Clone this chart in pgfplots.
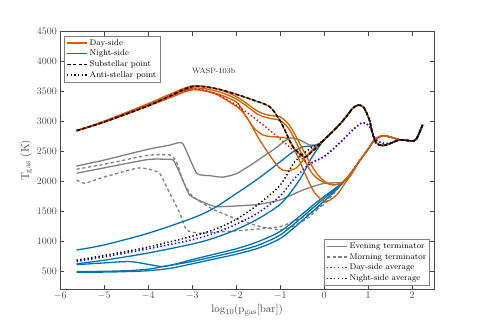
\documentclass[border=0pt]{standalone}
\usepackage{pgfplots}
\pgfplotsset{compat=1.18}
\definecolor{dayc}{RGB}{213,94,0}
\definecolor{nightc}{RGB}{0,114,178}
\definecolor{termc}{RGB}{128,128,128}
\definecolor{axc}{RGB}{70,70,70}
\tikzset{
  dayl/.style={draw=dayc, line width=1.3bp, solid},
  nightl/.style={draw=nightc, line width=1.3bp, solid},
  eveningl/.style={draw=termc, line width=1.3bp, solid},
  morningl/.style={draw=termc, line width=1.3bp, dash pattern=on 3.2bp off 2.6bp},
  subl/.style={draw=black, line width=1.6bp, dash pattern=on 3.6bp off 2.2bp},
  antil/.style={draw=black, line width=1.5bp, dash pattern=on 1.3bp off 2.4bp},
  davgl/.style={draw=red, line width=1.5bp, dash pattern=on 1.3bp off 2.4bp},
  navgl/.style={draw=blue, line width=1.5bp, dash pattern=on 1.3bp off 2.4bp},
}
\pgfplotsset{
  myaxis/.style={
    at={(0,0)}, anchor=south west, scale only axis,
    width=373.7bp, height=257.3bp,
    xmin=-6, xmax=2.5, ymin=210, ymax=4500,
  },
  mylegend/.style={
    legend style={draw=termc, fill=white,
      font=\fontsize{8.3bp}{9.5bp}\selectfont, inner sep=1.5bp, row sep=-0.6bp},
    legend cell align=left,
  },
}
\begin{document}
\begin{tikzpicture}
\path[use as bounding box] (-60.3bp,-33bp) rectangle (422.7bp,289bp);
\begin{axis}[myaxis, mylegend,
  xtick={-6,-5,...,2}, ytick={500,1000,...,4500},
  tick align=inside, major tick length=4bp,
  axis line style={axc, line width=0.7bp}, tick style={axc, line width=0.6bp},
  ticklabel style={font=\fontsize{9.8bp}{11bp}\selectfont, text=axc},
  yticklabel style={/pgf/number format/1000 sep={}},
  xlabel={$\mathrm{log_{10}(p_{gas}[bar])}$},
  ylabel={$\mathrm{T_{gas}}$ (K)},
  label style={font=\fontsize{11.4bp}{13bp}\selectfont, text=axc},
  xlabel style={yshift=2bp},
  ylabel style={yshift=-2bp},
  legend style={at={(0.011,0.984)}, anchor=north west},
]
\addlegendimage{legend image code/.code={\draw[dayc, line width=1.3bp] (0bp,0bp) -- (20bp,0bp);}}
\addlegendentry{Day-side}
\addlegendimage{legend image code/.code={\draw[nightc, line width=1.3bp] (0bp,0bp) -- (20bp,0bp);}}
\addlegendentry{Night-side}
\addlegendimage{legend image code/.code={\draw[black, line width=1.6bp, dash pattern=on 3.6bp off 2.2bp] (0bp,0bp) -- (20bp,0bp);}}
\addlegendentry{Substellar point}
\addlegendimage{legend image code/.code={\draw[black, line width=1.5bp, dash pattern=on 1.3bp off 2.4bp] (0bp,0bp) -- (20bp,0bp);}}
\addlegendentry{Anti-stellar point}

% Evening terminator
\addplot[eveningl, smooth, tension=0.3, forget plot] coordinates {(-5.63,2260)(-5,2360)(-4,2540)(-3.5,2610)(-3.22,2640)(-2.9,2140)(-2.6,2100)(-2.31,2075)(-2,2130)(-1.62,2300)(-1.16,2530)(-0.79,2725)(-0.55,2695)(-0.33,2610)(-0.1,2620)(0,2690)(0.3,2910)(0.5,3080)(0.65,3220)(0.77,3275)(0.9,3240)(1.03,3030)(1.1,2810)(1.18,2650)(1.3,2605)(1.41,2610)(1.55,2650)(1.71,2695)(1.85,2690)(2.0,2680)(2.1,2710)(2.24,2945)};
\addplot[eveningl, smooth, tension=0.3, forget plot] coordinates {(-5.63,2140)(-5,2230)(-4,2370)(-3.58,2373)(-3.43,2361)(-3.28,2140)(-3.06,1778)(-2.7,1640)(-2.45,1583)(-2,1594)(-1.5,1620)(-1,1694)(-0.48,1861)(0,1972)(0.42,1990)(0.6,2130)(0.8,2340)(1.0,2540)(1.15,2700)(1.33,2765)(1.5,2745)(1.71,2700)(1.85,2690)(2.0,2680)(2.1,2710)(2.24,2945)};
% Morning terminator
\addplot[morningl, smooth, tension=0.3, forget plot] coordinates {(-5.63,2207)(-5,2290)(-4,2440)(-3.51,2445)(-3.36,2333)(-3.2,2000)(-3.0,1760)(-2.53,1540)(-2,1380)(-1.5,1260)(-1.0,1195)(-0.71,1250)(-0.33,1417)(0,1650)(0.25,1850)(0.45,2000)(0.6,2130)(0.8,2340)(1.0,2540)(1.15,2700)(1.33,2765)(1.5,2745)(1.71,2700)(1.85,2690)(2.0,2680)(2.1,2710)(2.24,2945)};
\addplot[morningl, smooth, tension=0.3, forget plot] coordinates {(-5.63,2028)(-5.44,1973)(-5.1,2056)(-4.27,2223)(-4,2210)(-3.74,2139)(-3.51,1807)(-3.28,1472)(-3.13,1194)(-2.83,1139)(-2.45,1160)(-2,1180)(-1.5,1210)(-1,1250)(-0.5,1400)(0,1620)(0.25,1830)(0.45,2000)(0.6,2130)(0.8,2340)(1.0,2540)(1.15,2700)(1.33,2765)(1.5,2745)(1.71,2700)(1.85,2690)(2.0,2680)(2.1,2710)(2.24,2945)};

% Night-side
\addplot[nightl, smooth, forget plot] coordinates {(-5.63,860)(-5,945)(-4,1140)(-3,1390)(-2.5,1560)(-2,1800)(-1.5,2050)(-1.0,2330)(-0.7,2500)(-0.48,2580)(-0.3,2590)(-0.1,2630)(0,2700)(0.3,2910)(0.5,3080)(0.65,3220)(0.77,3275)(0.9,3240)(1.03,3030)(1.1,2810)(1.18,2650)(1.3,2605)(1.41,2610)(1.55,2650)(1.71,2695)(1.85,2690)(2.0,2680)(2.1,2710)(2.24,2945)};
\addplot[nightl, smooth, forget plot] coordinates {(-5.63,630)(-5,690)(-4,810)(-3,960)(-2.5,1060)(-2,1200)(-1.5,1380)(-1,1620)(-0.7,1880)(-0.5,2100)(-0.3,2380)(-0.1,2600)(0,2700)(0.3,2910)(0.5,3080)(0.65,3220)(0.77,3275)(0.9,3240)(1.03,3030)(1.1,2810)(1.18,2650)(1.3,2605)(1.41,2610)(1.55,2650)(1.71,2695)(1.85,2690)(2.0,2680)(2.1,2710)(2.24,2945)};
\addplot[nightl, smooth, forget plot] coordinates {(-5.63,615)(-5,645)(-4.42,667)(-3.96,615)(-3.66,585)(-3.3,640)(-3,700)(-2.5,790)(-2,880)(-1.5,1000)(-1,1170)(-0.56,1420)(-0.13,1680)(0.2,1860)(0.45,2000)(0.6,2130)(0.8,2340)(1.0,2540)(1.15,2700)(1.33,2765)(1.5,2745)(1.71,2700)(1.85,2690)(2.0,2680)(2.1,2710)(2.24,2945)};
\addplot[nightl, smooth, forget plot] coordinates {(-5.63,500)(-5,505)(-4.5,515)(-4,540)(-3.66,585)(-3.3,630)(-3,670)(-2.5,750)(-2,835)(-1.5,940)(-1,1110)(-0.56,1370)(-0.13,1640)(0.2,1840)(0.45,2000)(0.6,2130)(0.8,2340)(1.0,2540)(1.15,2700)(1.33,2765)(1.5,2745)(1.71,2700)(1.85,2690)(2.0,2680)(2.1,2710)(2.24,2945)};
\addplot[nightl, smooth, forget plot] coordinates {(-5.63,490)(-5,492)(-4.5,500)(-4,515)(-3.5,555)(-3,630)(-2.5,710)(-2,790)(-1.5,890)(-1,1050)(-0.56,1310)(-0.13,1590)(0.2,1810)(0.45,2000)(0.6,2130)(0.8,2340)(1.0,2540)(1.15,2700)(1.33,2765)(1.5,2745)(1.71,2700)(1.85,2690)(2.0,2680)(2.1,2710)(2.24,2945)};

% Day-side
\addplot[dayl, smooth, forget plot] coordinates {(-5.63,2850)(-5,3010)(-4,3300)(-3.5,3460)(-3,3595)(-2.5,3560)(-2,3420)(-1.5,3170)(-1.2,3100)(-1,3080)(-0.8,2950)(-0.6,2700)(-0.4,2420)(-0.2,2170)(0,2010)(0.2,1950)(0.42,1990)(0.6,2130)(0.8,2340)(1.0,2540)(1.15,2700)(1.33,2765)(1.5,2745)(1.71,2700)(1.85,2690)(2.0,2680)(2.1,2710)(2.24,2945)};
\addplot[dayl, smooth, forget plot] coordinates {(-5.63,2850)(-5,3000)(-4,3280)(-3.5,3430)(-3,3560)(-2.5,3520)(-2,3380)(-1.5,3120)(-1.2,3050)(-1,3020)(-0.8,2880)(-0.6,2600)(-0.33,2200)(-0.11,2030)(0.2,1945)(0.42,1990)(0.6,2130)(0.8,2340)(1.0,2540)(1.15,2700)(1.33,2765)(1.5,2745)(1.71,2700)(1.85,2690)(2.0,2680)(2.1,2710)(2.24,2945)};
\addplot[dayl, smooth, forget plot] coordinates {(-5.63,2850)(-5,2990)(-4,3260)(-3.5,3400)(-3,3530)(-2.5,3480)(-2,3330)(-1.8,3120)(-1.6,2900)(-1.4,2780)(-1.2,2750)(-1,2740)(-0.8,2700)(-0.6,2420)(-0.4,2080)(-0.2,1800)(0.05,1670)(0.3,1790)(0.5,2000)(0.65,2150)(0.8,2340)(1.0,2540)(1.15,2700)(1.33,2765)(1.5,2745)(1.71,2700)(1.85,2690)(2.0,2680)(2.1,2710)(2.24,2945)};
\addplot[dayl, smooth, forget plot] coordinates {(-5.63,2850)(-5,3000)(-4,3270)(-3.5,3420)(-3,3540)(-2.5,3470)(-2.2,3350)(-1.9,3200)(-1.7,3000)(-1.47,2700)(-1.16,2360)(-1,2220)(-0.86,2180)(-0.63,2230)(-0.41,2420)(-0.2,2580)(0,2700)(0.3,2910)(0.5,3080)(0.65,3220)(0.77,3275)(0.9,3240)(1.03,3030)(1.1,2810)(1.18,2650)(1.3,2605)(1.41,2610)(1.55,2650)(1.71,2695)(1.85,2690)(2.0,2680)(2.1,2710)(2.24,2945)};
\addplot[dayl, smooth, forget plot] coordinates {(-5.63,2850)(-5,2995)(-4,3265)(-3.5,3430)(-3,3585)(-2.5,3557)(-2.07,3473)(-1.62,3362)(-1.24,3250)(-1.01,3028)(-0.86,2807)(-0.71,2583)(-0.45,2410)(-0.29,2490)(-0.1,2620)(0,2700)(0.3,2910)(0.5,3080)(0.65,3220)(0.77,3275)(0.9,3240)(1.03,3030)(1.1,2810)(1.18,2650)(1.3,2605)(1.41,2610)(1.55,2650)(1.71,2695)(1.85,2690)(2.0,2680)(2.1,2710)(2.24,2945)};

% Averages
\addplot[davgl, smooth, forget plot] coordinates {(-5.63,2850)(-5,3000)(-4,3280)(-3.5,3430)(-3,3550)(-2.52,3480)(-2.07,3310)(-1.62,3080)(-1.16,2810)(-0.79,2580)(-0.56,2420)(-0.33,2310)(0,2420)(0.35,2640)(0.65,2860)(0.88,2985)(1.03,2920)(1.18,2700)(1.35,2640)(1.5,2645)(1.71,2695)(1.85,2690)(2.0,2680)(2.1,2710)(2.24,2945)};
\addplot[navgl, smooth, forget plot] coordinates {(-5.63,670)(-5,745)(-4,880)(-3,1030)(-2.5,1140)(-2,1290)(-1.5,1480)(-1,1760)(-0.7,2030)(-0.4,2250)(-0.2,2350)(0,2420)(0.35,2640)(0.65,2860)(0.88,2985)(1.03,2920)(1.18,2700)(1.35,2640)(1.5,2645)(1.71,2695)(1.85,2690)(2.0,2680)(2.1,2710)(2.24,2945)};

% Substellar and anti-stellar
\addplot[subl, smooth, forget plot] coordinates {(-5.63,2850)(-5,2995)(-4,3265)(-3.5,3430)(-3,3585)(-2.5,3557)(-2.07,3473)(-1.62,3362)(-1.24,3250)(-1.01,3028)(-0.86,2807)(-0.71,2583)(-0.45,2410)(-0.29,2490)(-0.1,2620)(0,2700)(0.3,2910)(0.5,3080)(0.65,3220)(0.77,3275)(0.9,3240)(1.03,3030)(1.1,2810)(1.18,2650)(1.3,2605)(1.41,2610)(1.55,2650)(1.71,2695)(1.85,2690)(2.0,2680)(2.1,2710)(2.24,2945)};
\addplot[antil, smooth, forget plot] coordinates {(-5.63,690)(-5,770)(-4,910)(-3,1090)(-2.5,1200)(-2,1370)(-1.5,1620)(-1,1940)(-0.7,2300)(-0.5,2450)(-0.3,2560)(-0.1,2640)(0,2700)(0.3,2910)(0.5,3080)(0.65,3220)(0.77,3275)(0.9,3240)(1.03,3030)(1.1,2810)(1.18,2650)(1.3,2605)(1.41,2610)(1.55,2650)(1.71,2695)(1.85,2690)(2.0,2680)(2.1,2710)(2.24,2945)};

\node[font=\fontsize{7.7bp}{9bp}\selectfont, text=black!85] at (axis cs:-2.51,3845) {WASP-103b};
\end{axis}
\begin{axis}[myaxis, mylegend, hide axis,
  legend style={at={(0.989,0.013)}, anchor=south east},
]
\addlegendimage{legend image code/.code={\draw[termc, line width=1.3bp] (0bp,0bp) -- (20bp,0bp);}}
\addlegendentry{Evening terminator}
\addlegendimage{legend image code/.code={\draw[termc, line width=1.3bp, dash pattern=on 3.2bp off 2.6bp] (0bp,0bp) -- (20bp,0bp);}}
\addlegendentry{Morning terminator}
\addlegendimage{legend image code/.code={\draw[red, line width=1.5bp, dash pattern=on 1.3bp off 2.4bp] (0bp,0bp) -- (20bp,0bp);}}
\addlegendentry{Day-side average}
\addlegendimage{legend image code/.code={\draw[blue, line width=1.5bp, dash pattern=on 1.3bp off 2.4bp] (0bp,0bp) -- (20bp,0bp);}}
\addlegendentry{Night-side average}
\end{axis}
\end{tikzpicture}
\end{document}
